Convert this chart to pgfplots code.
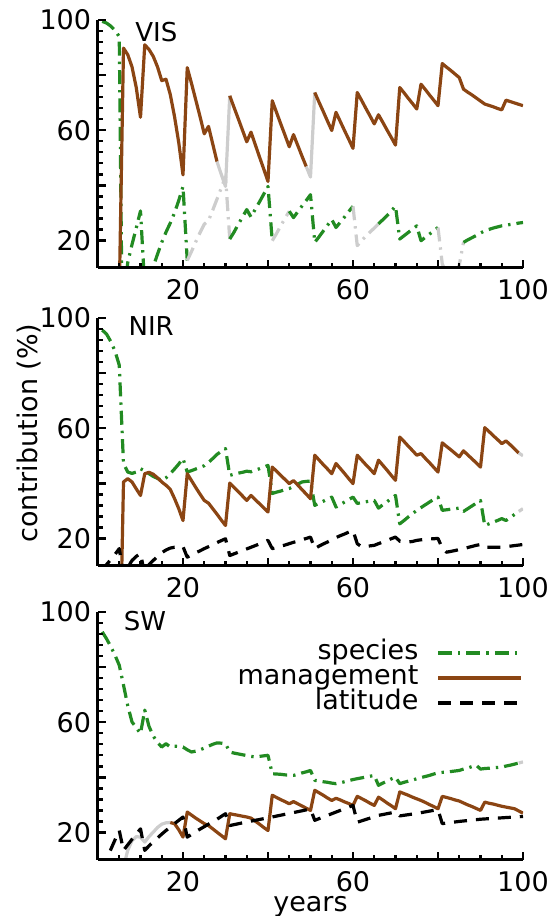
\documentclass[border=0pt]{standalone}
\usepackage{pgfplots}
\pgfplotsset{compat=1.18}
\usepackage{fontspec}
\setmainfont{DejaVu Sans}
\definecolor{spg}{RGB}{34,139,34}
\definecolor{mgb}{RGB}{139,69,19}
\definecolor{lgr}{RGB}{205,205,205}
\tikzset{
  sp/.style={color=spg, line width=1.6pt, line join=round, dash pattern=on 7pt off 3pt on 1.2pt off 3pt},
  spgray/.style={sp, color=lgr},
  mg/.style={color=mgb, line width=1.6pt, line join=round, solid},
  mggray/.style={mg, color=lgr},
  la/.style={color=black, line width=1.6pt, line join=round, dash pattern=on 6.5pt off 4.5pt},
  plab/.style={anchor=base west, inner sep=0pt, font=\fontsize{13}{15}\selectfont},
}
\pgfplotsset{
  panel/.style={
    scale only axis, width=212.5pt, height=124pt,
    xmin=0, xmax=100, ymin=10, ymax=100,
    axis x line=bottom, axis y line=left,
    axis line style={line width=1.5pt, -},
    axis on top,
    xtick={0,20,40,60,80,100}, xticklabels={,20,,60,,100},
    ytick={20,40,60,80,100}, yticklabels={20,,60,,100},
    minor x tick num=3, minor y tick num=4,
    tick align=inside,
    major tick length=4pt, minor tick length=2.5pt,
    every tick/.style={black, line width=1.2pt},
    tick label style={font=\fontsize{13.5}{16}\selectfont},
    /pgf/number format/assume math mode=true,
    yticklabel style={inner sep=0pt, xshift=-3.25pt},
    xticklabel style={inner sep=0pt, yshift=-5.4pt},
  },
  every axis plot/.append style={forget plot},
}
\begin{document}
\begin{tikzpicture}
% ---------------- VIS ----------------
\begin{axis}[panel, at={(49pt,-10pt)}, anchor=north west,
  extra description/.code={\node[plab] at (0.087,0.913) {VIS};}]
\addplot[sp] coordinates {(1,99.5) (2,98.9) (3,97.8) (4,96.2) (5,94) (5.6,4) (6.4,4) (7,12) (8,18.5) (9,24.5) (10,30.7) (11,3) (12,6.5) (13,10.5) (14,15) (15,19.3) (16,23) (17,26.3) (18,30) (19,34.5) (20,39.6) (21,12.7)};
\addplot[spgray] coordinates {(21,12.7) (22,16) (23,19.5) (24,22.8) (25,25.9) (26,27.2) (27,31) (28,35) (29,39) (30,43.2) (31,20.5)};
\addplot[sp] coordinates {(31,20.5) (32,23) (33,25.8) (34,28.5) (35,31.2) (36,28.5) (37,31.3) (38,34) (39,36.8) (40,39.6) (41,19.9)};
\addplot[spgray] coordinates {(41,19.9) (42,22.5) (43,25.3) (44,28) (45,30.6)};
\addplot[sp] coordinates {(45,30.6) (46,28.3) (47,30.4) (48,32.5) (49,34.5) (50,36.6) (51,19.3) (52,21.3) (53,23.4) (54,25.5) (55,27.6) (56,24.7) (57,26.6) (58,28.5) (59,30.5) (60,32.4)};
\addplot[spgray] coordinates {(60,32.4) (61,18.1) (62,19.9) (63,21.5) (64,23) (65,24.5) (66,26)};
\addplot[sp] coordinates {(66,26) (67,27.5) (68,29) (69,30.7) (70,32.4) (71,20.5) (72,21.7) (73,22.9) (74,24.1) (75,25.3) (76,19.9) (77,21.1) (78,22.3) (79,23.5) (80,24.7)};
\addplot[spgray] coordinates {(80,24.7) (81,11.5) (82,8) (83,7.5) (84,8.5) (85,11) (86,19.3)};
\addplot[sp] coordinates {(86,19.3) (87,20.2) (88,21) (89,21.8) (90,22.7) (91,23.5) (92,24) (93,24.5) (94,24.9) (95,25.3) (96,25.5) (97,25.8) (98,26) (99,26.3) (100,26.5)};
\addplot[mg] coordinates {(5,0) (6,89.8) (7,87.4) (8,83) (9,75.5) (10,64.7) (11,91) (12,89.3) (13,86.8) (14,83) (15,78) (16,78.5) (17,73) (18,65) (19,55.5) (20,43.8) (21,82.7) (22,77) (23,71) (24,65) (25,58.7) (26,61.4) (27,55) (28,48.6)};
\addplot[mggray] coordinates {(28,48.6) (29,44) (30,39.6) (31,72.5)};
\addplot[mg] coordinates {(31,72.5) (32,68.3) (33,64.2) (34,60) (35,55.8) (36,59.3) (37,54.8) (38,50.3) (39,45.9) (40,41.4) (41,70.7) (42,66.5) (43,62.3) (44,58.2) (45,54) (46,58.4) (47,54.5) (48,50.6) (49,46.8)};
\addplot[mggray] coordinates {(49,46.8) (50,43) (51,73.7)};
\addplot[mg] coordinates {(51,73.7) (52,70.2) (53,66.8) (54,63.3) (55,59.9) (56,66.5) (57,63.2) (58,59.9) (59,56.7) (60,53.4) (61,73.7) (62,70.9) (63,68) (64,65.2) (65,62.3) (66,65.6) (67,62.9) (68,60.1) (69,57.4) (70,54.6) (71,75.5) (72,73.6) (73,71.6) (74,69.7) (75,67.7) (76,76.7) (77,74.8) (78,72.8) (79,70.9) (80,68.9) (81,84.2) (82,82.9) (83,81.7) (84,80.4) (85,79.1) (86,74.9) (87,73.8) (88,72.8) (89,71.7) (90,70.6) (91,69.5) (92,69) (93,68.5) (94,67.9) (95,67.4) (96,70.9) (97,70.4) (98,69.9) (99,69.4) (100,68.9)};
\end{axis}
% ---------------- NIR ----------------
\begin{axis}[panel, at={(49pt,-159pt)}, anchor=north west,
  extra description/.code={\node[plab] at (0.071,0.931) {NIR};}]
\addplot[sp] coordinates {(1,95.6) (2,94.2) (3,91.5) (4,88) (5,82.9) (5.5,65) (6,47.2) (7,44.1) (8,43.6) (9,44.1) (10,45.3) (11,44.5) (12,43.5) (13,42.5) (14,41.8) (15,41.1) (16,42) (17,43.5) (18,45.2) (19,47) (20,49) (21,44.1) (22,44.6) (23,45.2) (24,45.8) (25,46.4) (26,47.6) (27,49) (28,50.5) (29,51.6) (30,52.6) (31,42.9) (32,43.3) (33,43.7) (34,44) (35,44.4) (36,44.2) (37,44.8) (38,45.3) (39,45.9) (40,46.5) (41,36.3) (42,36.8) (43,37.2) (44,37.7) (45,38.1) (46,38.9) (47,39.7) (48,40.5) (49,40.7) (50,40.8) (51,32) (52,32.8) (53,33.5) (54,34.3) (55,35) (56,31.4) (57,32.3) (58,33.2) (59,34.1) (60,35) (61,32.7) (62,33) (63,33.3) (64,33.6) (65,33.8) (66,31) (67,32.2) (68,33.3) (69,34.5) (70,35.6) (71,25.3) (72,26.5) (73,27.8) (74,29) (75,30.2) (76,31.2) (77,32.2) (78,33.2) (79,34.2) (80,35) (81,30.2) (82,30.4) (83,30.6) (84,30.8) (85,31) (86,29.8) (87,30.8) (88,31.8) (89,32.8) (90,33.8) (91,24.7) (92,25.3) (93,25.9) (94,26.5) (95,27.2) (96,26.5) (97,27.6) (98,28.7) (99,29.8)};
\addplot[spgray] coordinates {(99,29.8) (100,30.8)};
\addplot[mg] coordinates {(5,-36) (6,40.5) (7,41.7) (8,40.5) (9,38) (10,35.6) (11,43.5) (12,44) (13,43.3) (14,42) (15,40.5) (16,39.3) (17,37.8) (18,34.5) (19,30.8) (20,26.5) (21,43.5) (22,41) (23,38.5) (24,36.1) (25,33.8) (26,32.8) (27,30.8) (28,28.8) (29,26.7) (30,24.7) (31,40.1) (32,38.5) (33,37) (34,35.4) (35,33.8) (36,35.6) (37,34.1) (38,32.6) (39,31.1) (40,29.6) (41,45.9) (42,44.4) (43,42.9) (44,41.4) (45,39.9) (46,41) (47,39.4) (48,37.7) (49,36.1) (50,34.4) (51,50.2) (52,48.5) (53,46.8) (54,45.2) (55,43.5) (56,47.2) (57,45.4) (58,43.6) (59,41.7) (60,39.9) (61,50.2) (62,48.5) (63,46.8) (64,45.2) (65,43.5) (66,48.4) (67,46.6) (68,44.8) (69,42.9) (70,41.1) (71,56.8) (72,55.2) (73,53.5) (74,51.9) (75,50.2) (76,50.8) (77,49.1) (78,47.5) (79,45.8) (80,44.1) (81,54.7) (82,53.4) (83,52.2) (84,50.9) (85,49.6) (86,51.8) (87,50.3) (88,48.9) (89,47.4) (90,45.9) (91,60.2) (92,58.8) (93,57.3) (94,55.9) (95,54.4) (96,55.4) (97,54) (98,52.5) (99,51)};
\addplot[mggray] coordinates {(99,51) (100,50)};
\addplot[la] coordinates {(1,8) (2,10.5) (3,12.3) (4,14.2) (5,16.3) (6,7) (7,9.5) (8,12) (9,13.5) (10,14.5) (11,7) (12,10.5) (13,12) (14,13.5) (15,14.8) (16,15.8) (17,16.5) (18,16.8) (19,16.9) (20,17) (21,13.2) (22,14) (23,14.8) (24,15.5) (25,16.3) (26,17) (27,17.7) (28,18.5) (29,19.2) (30,19.9) (31,13.8) (32,14.4) (33,15) (34,15.6) (35,16.2) (36,16.8) (37,17.4) (38,18) (39,18.7) (40,19.3) (41,16.3) (42,16.7) (43,17.2) (44,17.6) (45,18.1) (46,18.6) (47,19) (48,19.5) (49,20) (50,20.5) (51,16.3) (52,17.2) (53,18) (54,18.7) (55,19.5) (56,20.3) (57,21) (58,21.6) (59,22.3) (60,22.9) (61,18.1) (62,17) (63,17.1) (64,17.3) (65,17.5) (66,18.1) (67,18.7) (68,19.3) (69,19.9) (70,20.5) (71,19) (72,18.8) (73,18.7) (74,18.9) (75,19.3) (76,19.5) (77,19.6) (78,19.8) (79,19.9) (80,20) (81,16.5) (82,15) (83,15.3) (84,15.6) (85,16) (86,16.3) (87,16.7) (88,17.1) (89,17.5) (90,17.8) (91,16.8) (92,16.8) (93,16.8) (94,16.8) (95,16.8) (96,17) (97,17.2) (98,17.4) (99,17.6) (100,17.8)};
\end{axis}
% ---------------- SW ----------------
\begin{axis}[panel, at={(49pt,-306pt)}, anchor=north west,
  extra description/.code={\node[plab] at (0.06,0.927) {SW};},
  legend plot pos=right, legend cell align=right,
  legend image code/.code={\draw[#1] (0pt,0pt) -- (41.5pt,0pt);},
  legend style={draw=none, fill=none, at={(rel axis cs:1,0.887)}, anchor=north east,
    font=\fontsize{13.5}{16}\selectfont, inner sep=0pt, row sep=0pt, column sep=9pt,
    nodes={inner sep=0pt, text height=9.5pt, text depth=3pt}}]
\addlegendimage{sp}\addlegendentry{species}
\addlegendimage{mg}\addlegendentry{management}
\addlegendimage{la}\addlegendentry{latitude}
\addplot[sp] coordinates {(1,92.8) (2,90.3) (3,87.5) (4,84.3) (5,80.7) (6,73.5) (7,66) (8,60.1) (9,58) (10,55.9) (11,64.4) (12,58.5) (13,55) (14,52.6) (15,51) (16,52.2) (17,51) (18,51.3) (19,51.2) (20,51) (21,50) (22,49.2) (23,49.5) (24,50) (25,50.6) (26,51.3) (27,52) (28,52.5) (29,52.4) (30,52.2) (31,49.2) (32,48.8) (33,48.5) (34,48.2) (35,47.9) (36,47.6) (37,47.4) (38,47.6) (39,47.8) (40,48) (41,41.3) (42,41.2) (43,41.1) (44,40.9) (45,40.8) (46,40.7) (47,41.1) (48,41.6) (49,42) (50,42.5) (51,38.9) (52,38.7) (53,38.4) (54,38.2) (55,37.9) (56,37.7) (57,38) (58,38.4) (59,38.8) (60,39.2) (61,39.5) (62,39.8) (63,40.1) (64,40.4) (65,40.7) (66,37.1) (67,37.9) (68,38.6) (69,39.4) (70,40.1) (71,37.7) (72,38.2) (73,38.6) (74,39) (75,39.5) (76,39.9) (77,40.3) (78,40.7) (79,41.2) (80,41.6) (81,41.8) (82,41.9) (83,42.1) (84,42.3) (85,42.5) (86,43) (87,43.4) (88,43.9) (89,44.4) (90,43) (91,43.2) (92,43.3) (93,43.5) (94,43.6) (95,43.7) (96,44.1) (97,44.4) (98,44.8) (99,45.2)};
\addplot[spgray] coordinates {(99,45.2) (100,45.6)};
\addplot[mggray] coordinates {(6,5) (6.5,10.5) (7,13.5) (8,17) (9,18.5) (10,18.3) (11,16.5) (12,18.5) (13,20.1) (14,21.8) (15,23) (16,23.5) (17,23.6)};
\addplot[mg] coordinates {(17,23.6) (18,23.2) (19,21) (20,18.3) (21,27.4) (22,26.3) (23,25.2) (24,24.2) (25,23.2) (26,22.5) (27,21.3) (28,20.1) (29,18.9) (30,17.7) (31,26.8) (32,26.5) (33,26.2) (34,25.9) (35,25.6) (36,25.2) (37,24.1) (38,23) (39,21.8) (40,20.7) (41,33.5) (42,32.7) (43,31.9) (44,31.2) (45,30.4) (46,31.2) (47,30.4) (48,29.6) (49,28.8) (50,28) (51,35.3) (52,34.4) (53,33.5) (54,32.5) (55,31.6) (56,32.4) (57,31.8) (58,31.1) (59,30.5) (60,29.8) (61,33.1) (62,32.3) (63,31.5) (64,30.6) (65,29.8) (66,32.8) (67,31.8) (68,30.7) (69,29.7) (70,28.6) (71,34.7) (72,34.1) (73,33.5) (74,32.8) (75,32.2) (76,31.6) (77,30.9) (78,30.1) (79,29.4) (80,28.6) (81,33.1) (82,32.7) (83,32.3) (84,31.8) (85,31.4) (86,30.7) (87,30) (88,29.4) (89,28.7) (90,28) (91,31) (92,30.6) (93,30.3) (94,29.9) (95,29.5) (96,29.2) (97,28.9) (98,28.6) (99,27.8) (100,27)};
\addplot[la] coordinates {(1,6) (2,10.4) (3,13.8) (4,17.3) (5,20.7) (6,13.5) (7,15.5) (8,17.5) (9,19.4) (10,21.3) (11,13.5) (12,15.1) (13,16.6) (14,18) (15,19.4) (16,20.7) (17,22) (18,23.2) (19,24.4) (20,25.6) (21,18.3) (22,19.3) (23,20.3) (24,21.2) (25,22.1) (26,23) (27,23.9) (28,24.8) (29,25.8) (30,26.8) (31,22.5) (35,23.8) (40,25.3) (45,26.9) (50,28.5) (51,24.4) (55,26.8) (60,29.8) (61,23.7) (62,24.2) (63,24.7) (64,25.2) (65,25.7) (66,26.2) (67,26.5) (68,26.8) (69,27.1) (70,27.4) (71,26) (75,26.9) (80,28.3) (81,23.2) (85,24) (90,24.8) (95,25.3) (100,25.8)};
\end{axis}
\node[rotate=90, anchor=base, inner sep=0pt, font=\fontsize{13.5}{16}\selectfont] at (18.5pt,-216.5pt) {contribution (\%)};
\node[anchor=base, inner sep=0pt, font=\fontsize{13.5}{16}\selectfont] at (155.25pt,-455.5pt) {years};
\pgfresetboundingbox
\useasboundingbox (0pt,0pt) rectangle (274.5pt,-458pt);
\end{tikzpicture}
\end{document}
